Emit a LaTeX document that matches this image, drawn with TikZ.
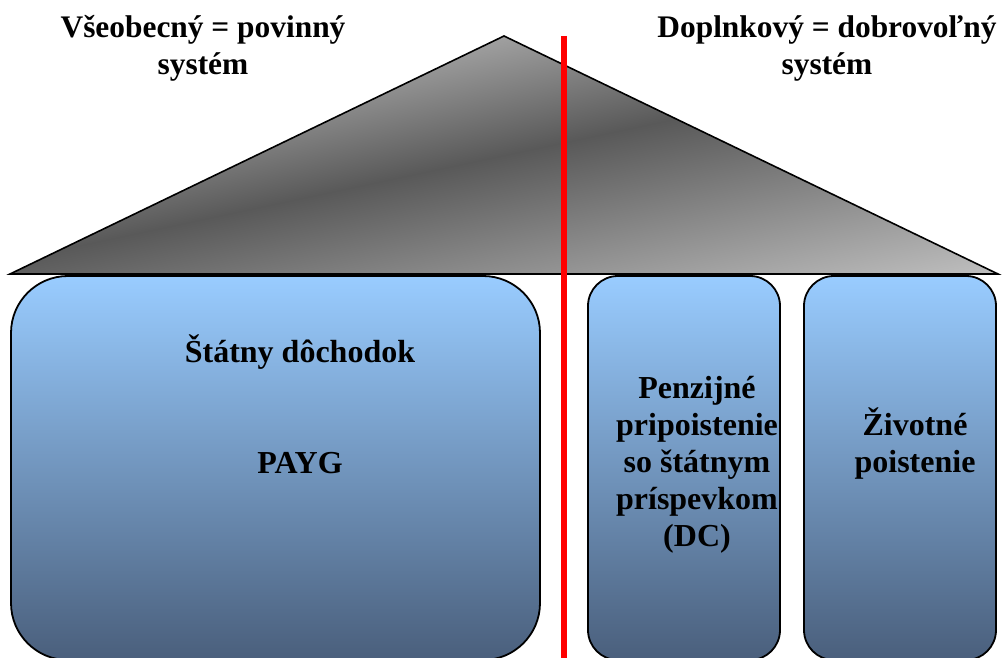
\documentclass[tikz,border=0pt]{standalone}
\usepackage{fontspec}
\setmainfont{Liberation Serif}
\definecolor{roofA}{HTML}{C6C6C6}
\definecolor{roofB}{HTML}{595959}
\definecolor{roofC}{HTML}{ACACAC}
\definecolor{boxTop}{HTML}{99CCFF}
\definecolor{boxBot}{HTML}{4A5F7C}
\definecolor{divider}{HTML}{FF0000}
\pgfdeclareverticalshading{roof}{100bp}{color(0bp)=(roofA); color(25bp)=(roofA); color(56.6bp)=(roofB); color(75bp)=(roofC); color(100bp)=(roofC)}
\begin{document}
\begin{tikzpicture}[x=1pt,y=1pt,
  hdr/.style={font=\bfseries\fontsize{31.4}{37}\selectfont, align=center, inner sep=0pt},
  lbl/.style={font=\bfseries\fontsize{32}{37}\selectfont, align=center, inner sep=0pt},
  pillar/.style={draw=black, line width=1.8pt, top color=boxTop, bottom color=boxBot, inner sep=0pt, minimum height=384pt},
  roofline/.style={draw=black, line width=1.6pt, line join=miter},
  divline/.style={draw=divider, line width=6pt}]
\useasboundingbox (0,0) rectangle (1004,657);
\clip (0,0) rectangle (1004,657);
\coordinate (apex) at (504,621);
\coordinate (roofL) at (10,383);
\coordinate (roofR) at (998,383);
\begin{scope}
\clip (apex) -- (roofL) -- (roofR) -- cycle;
\begin{scope}[transform canvas={shift={(504,502)},rotate=12}]
\shade[shading=roof] (-700,-234) rectangle (700,136);
\end{scope}
\end{scope}
\draw[roofline] (apex) -- (roofL) -- (roofR) -- cycle;
\node (state) [pillar, rounded corners=57pt, minimum width=529pt] at (275.5,189) {};
\node (pension) [pillar, rounded corners=30pt, minimum width=192pt] at (684,189) {};
\node (life) [pillar, rounded corners=30pt, minimum width=192pt] at (900,189) {};
\coordinate (divtop) at (564,621);
\coordinate (divbot) at (564,-5);
\draw[divline] (divtop) -- (divbot);
\node (hleft) [hdr, anchor=base] at (203,582) {Všeobecný = povinný\\systém};
\node (hright) [hdr, anchor=base] at (827,582) {Doplnkový = dobrovoľný\\systém};
\node (stateText) [lbl, anchor=base] at (300,184) {Štátny dôchodok\\[74pt]PAYG};
\node (pensionText) [lbl, anchor=base] at (697,111) {Penzijné\\pripoistenie\\so štátnym\\príspevkom\\(DC)};
\node (lifeText) [lbl, anchor=base] at (915,185) {Životné\\poistenie};
\end{tikzpicture}
\end{document}
